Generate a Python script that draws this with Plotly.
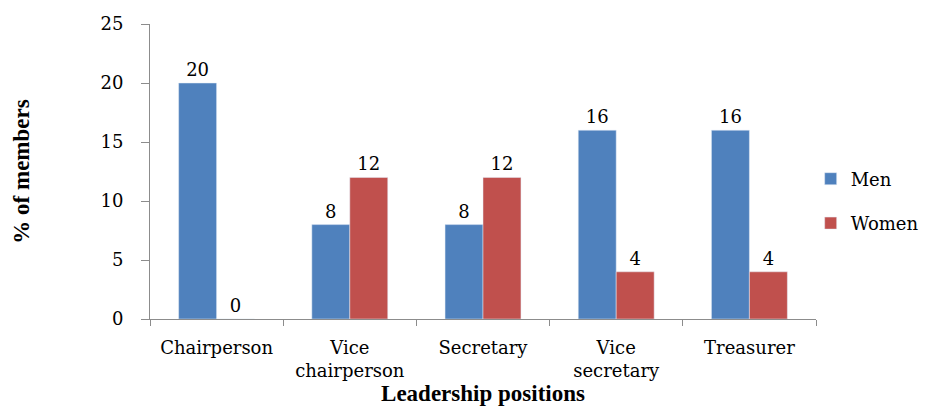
import plotly.graph_objects as go

categories = ["Chairperson", "Vice<br>chairperson", "Secretary", "Vice<br>secretary", "Treasurer"]
men = [20, 8, 8, 16, 16]
women = [0, 12, 12, 4, 4]

TFONT = "DejaVu Serif, serif"
BFONT = "Liberation Serif, Times New Roman, serif"
fig = go.Figure()
fig.add_trace(go.Bar(x=categories, y=men, name="Men", marker_color="#4F81BD",
                     text=men, textposition="outside", cliponaxis=False,
                     textfont=dict(family=TFONT, size=18, color="black"), legendgroup="a"))
fig.add_trace(go.Bar(x=categories, y=women, name="Women", marker_color="#C0504D",
                     text=women, textposition="outside", cliponaxis=False,
                     textfont=dict(family=TFONT, size=18, color="black"), legendgroup="b"))

fig.update_layout(
    width=929, height=406,
    margin=dict(l=150, r=113, t=24, b=87, autoexpand=False),
    plot_bgcolor="white", paper_bgcolor="white",
    barmode="group", bargap=0.43, bargroupgap=0,
    font=dict(family=TFONT, size=18, color="black"),
    legend=dict(x=0.992, y=0.4, xanchor="left", yanchor="middle",
                font=dict(family=TFONT, size=18), traceorder="grouped",
                tracegroupgap=18, itemwidth=30),
    showlegend=True,
)
fig.update_xaxes(showline=True, linecolor="#8c8c8c", linewidth=1,
                 ticks="outside", ticklen=6, tickcolor="#8c8c8c", tickson="boundaries",
                 ticklabelstandoff=12,
                 tickfont=dict(family=TFONT, size=18),
                 title=dict(text="<b>Leadership positions</b>", font=dict(family=BFONT, size=23), standoff=0))
fig.update_yaxes(range=[0, 25], dtick=5, showgrid=False, zeroline=False,
                 showline=True, linecolor="#8c8c8c", linewidth=1,
                 ticks="outside", ticklen=8, tickcolor="#8c8c8c",
                 ticklabelstandoff=14,
                 tickfont=dict(family=TFONT, size=18),
                 title=dict(text="<b>% of members</b>", font=dict(family=BFONT, size=23), standoff=64))

fig.write_html("out.html")
